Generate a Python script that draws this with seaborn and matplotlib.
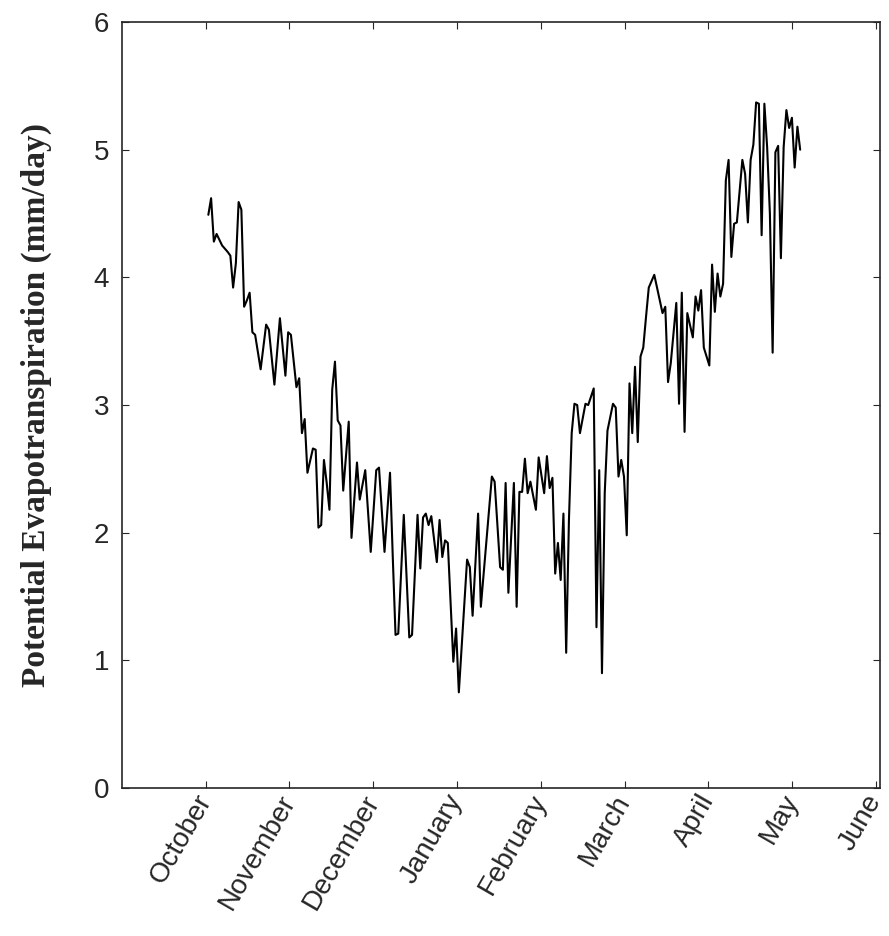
import matplotlib
matplotlib.use('Agg')
import matplotlib.pyplot as plt
import seaborn as sns
import numpy as np
import pandas as pd

# days since 1 October
day = [1, 2, 3, 4, 6, 8, 9, 10, 11, 12, 13, 14, 15, 16, 17, 18, 20, 22, 23, 25,
       27, 29, 30, 31, 33, 34, 35, 36, 37, 39, 40, 41, 42, 43, 44, 45, 46, 47, 48, 49,
       50, 52, 53, 55, 56, 58, 60, 62, 63, 65, 67, 68, 69, 70, 72, 74, 75, 77, 78, 79,
       80, 81, 82, 84, 85, 86, 87, 88, 90, 91, 92, 95, 96, 97, 99, 100, 104, 105, 107, 108,
       109, 110, 112, 113, 114, 115, 116, 117, 118, 120, 121, 123, 124, 125, 126, 127, 128, 129, 130, 131,
       132, 133, 134, 135, 136, 138, 139, 141, 142, 143, 144, 145, 146, 148, 149, 150, 151, 152, 153, 154,
       155, 156, 157, 158, 159, 160, 161, 163, 165, 166, 167, 168, 169, 171, 172, 173, 174, 175, 177, 178,
       179, 180, 181, 183, 184, 185, 186, 187, 188, 189, 190, 191, 192, 193, 195, 196, 197, 198, 199, 200,
       201, 202, 203, 204, 205, 206, 207, 208, 209, 210, 211, 212, 213, 214, 215, 216]

# potential evapotranspiration (mm/day)
pet = [4.49, 4.62, 4.28, 4.34, 4.25, 4.20, 4.17, 3.92, 4.11, 4.59, 4.53, 3.77, 3.82, 3.88, 3.57, 3.55, 3.28, 3.63, 3.59, 3.16,
       3.68, 3.23, 3.57, 3.55, 3.14, 3.21, 2.78, 2.89, 2.47, 2.66, 2.65, 2.04, 2.06, 2.57, 2.39, 2.18, 3.12, 3.34, 2.88, 2.84,
       2.33, 2.87, 1.96, 2.55, 2.26, 2.49, 1.85, 2.49, 2.51, 1.85, 2.47, 1.81, 1.20, 1.21, 2.14, 1.18, 1.20, 2.14, 1.72, 2.12,
       2.15, 2.06, 2.13, 1.77, 2.10, 1.81, 1.94, 1.92, 0.99, 1.25, 0.75, 1.79, 1.73, 1.35, 2.15, 1.42, 2.44, 2.40, 1.73, 1.71,
       2.39, 1.53, 2.39, 1.42, 2.32, 2.32, 2.58, 2.31, 2.40, 2.18, 2.59, 2.31, 2.60, 2.35, 2.43, 1.68, 1.92, 1.63, 2.15, 1.06,
       2.10, 2.78, 3.01, 3.00, 2.78, 3.01, 3.00, 3.13, 1.26, 2.49, 0.90, 2.31, 2.80, 3.01, 2.98, 2.44, 2.57, 2.44, 1.98, 3.17,
       2.78, 3.30, 2.71, 3.38, 3.45, 3.69, 3.92, 4.02, 3.82, 3.72, 3.77, 3.18, 3.33, 3.80, 3.01, 3.88, 2.79, 3.72, 3.53, 3.85,
       3.74, 3.90, 3.45, 3.31, 4.10, 3.73, 4.03, 3.85, 3.95, 4.76, 4.92, 4.16, 4.42, 4.43, 4.92, 4.81, 4.43, 4.92, 5.04, 5.37,
       5.36, 4.33, 5.36, 5.02, 4.50, 3.41, 4.98, 5.03, 4.15, 5.02, 5.31, 5.17, 5.25, 4.86, 5.18, 5.00]

months = ['October', 'November', 'December', 'January', 'February',
          'March', 'April', 'May', 'June']

df = pd.DataFrame({'day': day, 'pet': pet})
# month axis: 1 = start of October, equal-width months
df['month_pos'] = 1 + df['day'] / 30.44

sns.set_style('ticks')
plt.rcParams['font.family'] = ['Liberation Sans', 'DejaVu Sans']

fig = plt.figure(figsize=(8.89, 9.36), dpi=100)
ax = fig.add_axes([0.137, 0.158, 0.853, 0.8185])

sns.lineplot(data=df, x='month_pos', y='pet', ax=ax, color='black', lw=1.5)

ax.set_xlim(0, 9.05)
ax.set_ylim(0, 6)
ax.set_xticks(np.arange(1, len(months) + 1))
ax.set_xticklabels(months, rotation=60, ha='right', va='center',
                   rotation_mode='anchor', fontsize=20)
ax.set_yticks(range(0, 7))
ax.tick_params(direction='in', top=True, right=True, length=5, width=0.8)
ax.tick_params(axis='y', labelsize=20, pad=9)
ax.tick_params(axis='x', pad=6)
ax.set_xlabel('')
ax.set_ylabel('Potential Evapotranspiration (mm/day)', fontsize=24,
              fontweight='bold', family='Liberation Serif', labelpad=30)
for s in ax.spines.values():
    s.set_linewidth(1.2)

fig.savefig('out.png', dpi=100)
